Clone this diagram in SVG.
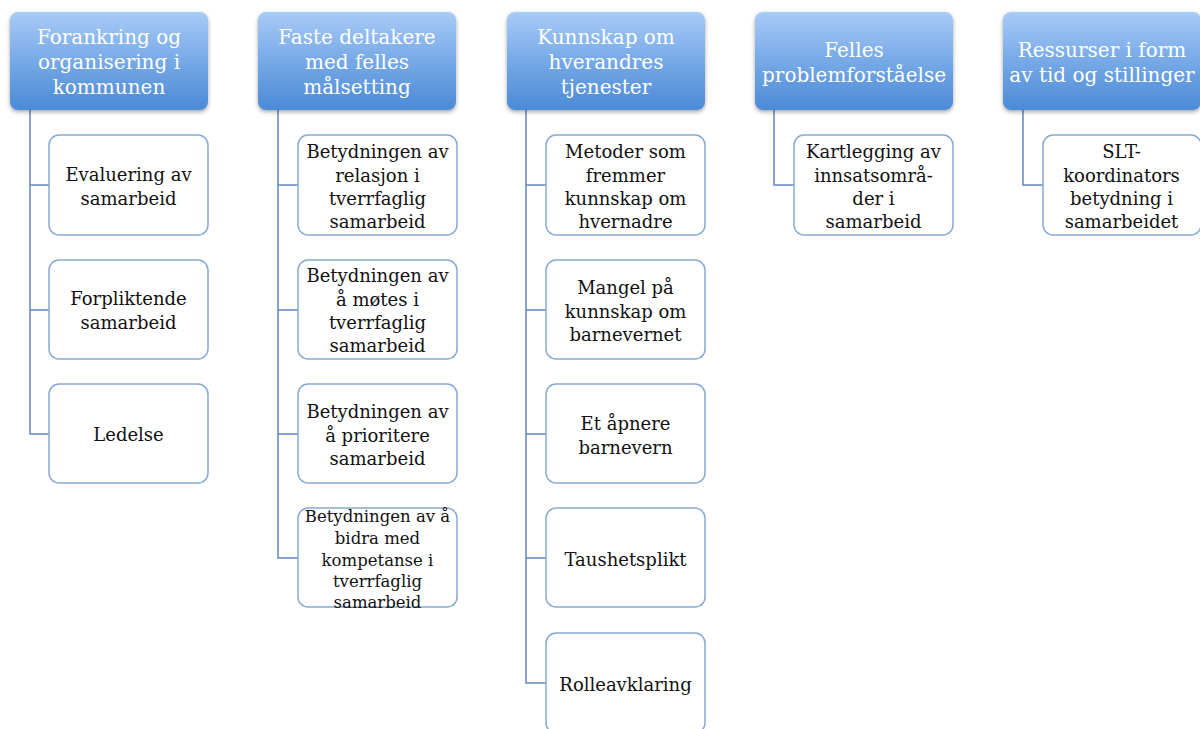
<svg xmlns="http://www.w3.org/2000/svg" width="1200" height="729" viewBox="0 0 1200 729">
<defs>
<linearGradient id="hg" x1="0" y1="0" x2="0" y2="1">
<stop offset="0" stop-color="#a9cbf6"/>
<stop offset="0.5" stop-color="#76a9e6"/>
<stop offset="1" stop-color="#4c8ad6"/>
</linearGradient>
<filter id="sh" x="-10%" y="-10%" width="120%" height="130%">
<feGaussianBlur in="SourceAlpha" stdDeviation="2"/>
<feOffset dy="2" result="b"/>
<feComponentTransfer><feFuncA type="linear" slope="0.35"/></feComponentTransfer>
<feMerge><feMergeNode/><feMergeNode in="SourceGraphic"/></feMerge>
</filter>
</defs>
<style>
.h{fill:url(#hg);filter:url(#sh)}
.ht{font-family:"DejaVu Serif",serif;font-size:20px;fill:#fff;text-anchor:middle}
.c{fill:#fff;stroke:#86a9d4;stroke-width:1.5}
.ct{font-family:"DejaVu Serif",serif;font-size:18px;fill:#111;text-anchor:middle}
.cs{font-size:16.5px}
.ln{fill:none;stroke:#6288ba;stroke-width:1.5}
</style>
<rect width="1200" height="729" fill="#fff"/>
<g id="connectors">
<path class="ln" d="M30 110V434H49M30 185H49M30 310H49"/>
<path class="ln" d="M278 110V558H298M278 185H298M278 310H298M278 434H298"/>
<path class="ln" d="M526 110V683H546M526 185H546M526 310H546M526 434H546M526 558H546"/>
<path class="ln" d="M774 110V185H794"/>
<path class="ln" d="M1023 110V185H1043"/>
</g>
<g id="h1"><rect class="h" x="10" y="12" width="198" height="98" rx="8"/><text class="ht" x="109"><tspan x="109" y="44">Forankring og</tspan><tspan x="109" y="69">organisering i</tspan><tspan x="109" y="94">kommunen</tspan></text></g>
<g id="h2"><rect class="h" x="258" y="12" width="198" height="98" rx="8"/><text class="ht"><tspan x="357" y="44">Faste deltakere</tspan><tspan x="357" y="69">med felles</tspan><tspan x="357" y="94">målsetting</tspan></text></g>
<g id="h3"><rect class="h" x="507" y="12" width="198" height="98" rx="8"/><text class="ht"><tspan x="606" y="44">Kunnskap om</tspan><tspan x="606" y="69">hverandres</tspan><tspan x="606" y="94">tjenester</tspan></text></g>
<g id="h4"><rect class="h" x="755" y="12" width="198" height="98" rx="8"/><text class="ht"><tspan x="854" y="57">Felles</tspan><tspan x="854" y="82">problemforståelse</tspan></text></g>
<g id="h5"><rect class="h" x="1003" y="12" width="198" height="98" rx="8"/><text class="ht"><tspan x="1102" y="57">Ressurser i form</tspan><tspan x="1102" y="82">av tid og stillinger</tspan></text></g>

<g id="c1a"><rect class="c" x="49" y="135" width="159" height="100" rx="10"/><text class="ct"><tspan x="128.5" y="181">Evaluering av</tspan><tspan x="128.5" y="205">samarbeid</tspan></text></g>
<g id="c1b"><rect class="c" x="49" y="260" width="159" height="99" rx="10"/><text class="ct"><tspan x="128.5" y="305">Forpliktende</tspan><tspan x="128.5" y="329">samarbeid</tspan></text></g>
<g id="c1c"><rect class="c" x="49" y="384" width="159" height="99" rx="10"/><text class="ct"><tspan x="128.5" y="441">Ledelse</tspan></text></g>

<g id="c2a"><rect class="c" x="298" y="135" width="159" height="100" rx="10"/><text class="ct"><tspan x="377.5" y="158">Betydningen av</tspan><tspan x="377.5" y="182">relasjon i</tspan><tspan x="377.5" y="205">tverrfaglig</tspan><tspan x="377.5" y="228">samarbeid</tspan></text></g>
<g id="c2b"><rect class="c" x="298" y="260" width="159" height="99" rx="10"/><text class="ct"><tspan x="377.5" y="282">Betydningen av</tspan><tspan x="377.5" y="306">å møtes i</tspan><tspan x="377.5" y="329">tverrfaglig</tspan><tspan x="377.5" y="352">samarbeid</tspan></text></g>
<g id="c2c"><rect class="c" x="298" y="384" width="159" height="99" rx="10"/><text class="ct"><tspan x="377.5" y="418">Betydningen av</tspan><tspan x="377.5" y="442">å prioritere</tspan><tspan x="377.5" y="465">samarbeid</tspan></text></g>
<g id="c2d"><rect class="c" x="298" y="508" width="159" height="99" rx="10"/><text class="ct cs"><tspan x="377.5" y="522">Betydningen av å</tspan><tspan x="377.5" y="544">bidra med</tspan><tspan x="377.5" y="566">kompetanse i</tspan><tspan x="377.5" y="587">tverrfaglig</tspan><tspan x="377.5" y="608">samarbeid</tspan></text></g>

<g id="c3a"><rect class="c" x="546" y="135" width="159" height="100" rx="10"/><text class="ct"><tspan x="625.5" y="158">Metoder som</tspan><tspan x="625.5" y="182">fremmer</tspan><tspan x="625.5" y="205">kunnskap om</tspan><tspan x="625.5" y="228">hvernadre</tspan></text></g>
<g id="c3b"><rect class="c" x="546" y="260" width="159" height="99" rx="10"/><text class="ct"><tspan x="625.5" y="294">Mangel på</tspan><tspan x="625.5" y="318">kunnskap om</tspan><tspan x="625.5" y="341">barnevernet</tspan></text></g>
<g id="c3c"><rect class="c" x="546" y="384" width="159" height="99" rx="10"/><text class="ct"><tspan x="625.5" y="430">Et åpnere</tspan><tspan x="625.5" y="454">barnevern</tspan></text></g>
<g id="c3d"><rect class="c" x="546" y="508" width="159" height="99" rx="10"/><text class="ct"><tspan x="625.5" y="566">Taushetsplikt</tspan></text></g>
<g id="c3e"><rect class="c" x="546" y="633" width="159" height="100" rx="10"/><text class="ct"><tspan x="625.5" y="691">Rolleavklaring</tspan></text></g>

<g id="c4a"><rect class="c" x="794" y="135" width="159" height="100" rx="10"/><text class="ct"><tspan x="873.5" y="158">Kartlegging av</tspan><tspan x="873.5" y="182">innsatsområ-</tspan><tspan x="873.5" y="205">der i</tspan><tspan x="873.5" y="228">samarbeid</tspan></text></g>

<g id="c5a"><rect class="c" x="1043" y="135" width="158" height="100" rx="10"/><text class="ct"><tspan x="1121.5" y="158">SLT-</tspan><tspan x="1121.5" y="182">koordinators</tspan><tspan x="1121.5" y="205">betydning i</tspan><tspan x="1121.5" y="228">samarbeidet</tspan></text></g>
</svg>
